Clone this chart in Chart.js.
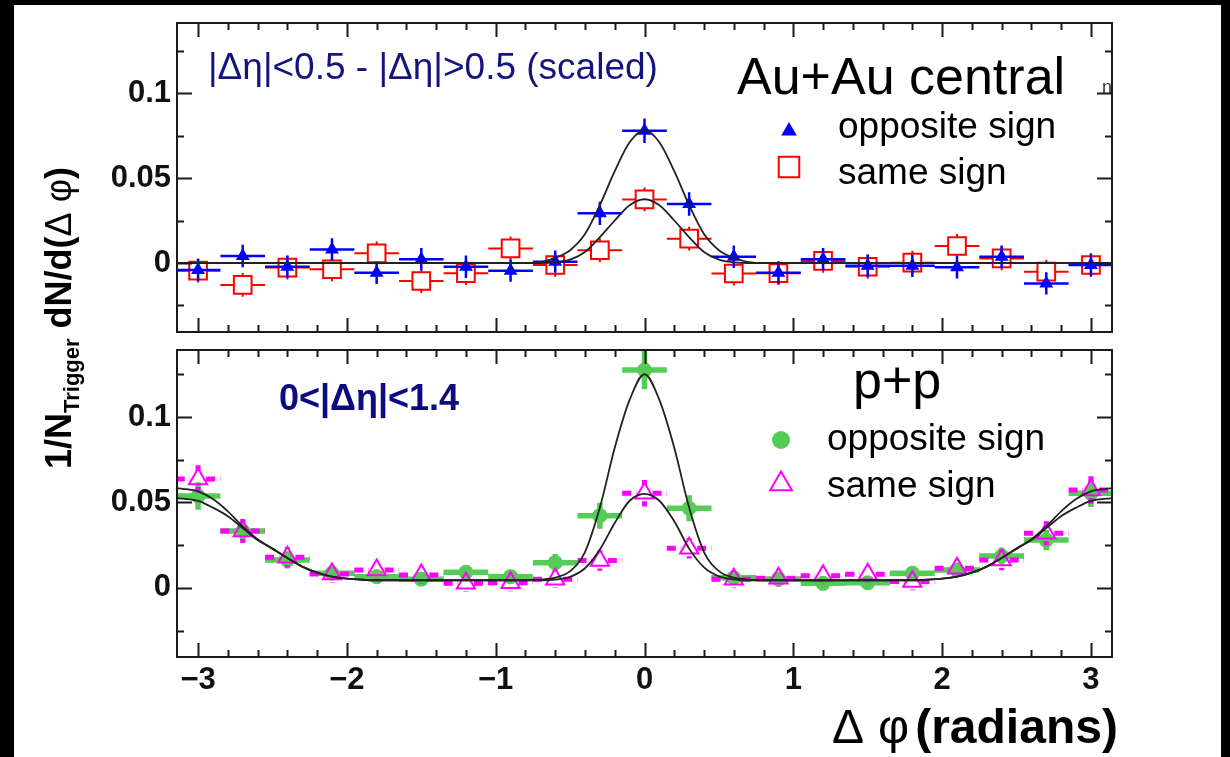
<!DOCTYPE html>
<html>
<head>
<meta charset="utf-8">
<title>Delta phi correlations</title>
<script src="https://cdn.jsdelivr.net/npm/chart.js@4.4.1/dist/chart.umd.min.js"></script>
<style>
  html, body { margin: 0; padding: 0; background: #000; width: 1230px; height: 757px; overflow: hidden; }
  #page { position: absolute; left: 14px; top: 5px; width: 1207px; height: 752px; background: #fff; }
  canvas { position: absolute; left: 0; }
  .lbl { position: absolute; white-space: nowrap; line-height: 1; color: #000;
         font-family: 'Liberation Sans', Arial, sans-serif; }
  .sym { font-weight: normal; }
</style>
</head>
<body>
<div id="page"></div>
<canvas id="top-panel" width="1230" height="340" style="top:0"></canvas>
<canvas id="bottom-panel" width="1230" height="417" style="top:340px"></canvas>

<div class="lbl" style="left:208px; top:48px; font-size:37px; color:#14147f">|&Delta;&eta;|&lt;0.5 - |&Delta;&eta;|&gt;0.5 (scaled)</div>
<div class="lbl" style="left:737px; top:50px; font-size:52px">Au+Au central</div>
<div class="lbl" style="left:838px; top:107px; font-size:37px">opposite sign</div>
<div class="lbl" style="left:838px; top:153px; font-size:37px">same sign</div>
<div class="lbl" style="left:1102px; top:78px; font-size:18px; color:#333">n</div>

<div class="lbl" style="left:279px; top:380px; font-size:36px; font-weight:bold; color:#0c0c80">0&lt;|&Delta;&eta;|&lt;1.4</div>
<div class="lbl" style="left:853px; top:354px; font-size:52px">p+p</div>
<div class="lbl" style="left:827px; top:419px; font-size:37px">opposite sign</div>
<div class="lbl" style="left:827px; top:466px; font-size:37px">same sign</div>

<div class="lbl" style="left:832px; top:703px; font-size:48px; font-weight:bold"><span class="sym">&Delta;</span><span class="sym" style="margin-left:14px">&phi;</span><span style="margin-left:6px">(radians)</span></div>
<div class="lbl" id="y-title" style="font-size:36px; font-weight:bold">1/N<span style="font-size:22px; position:relative; top:8px">Trigger</span> dN/d(<span class="sym">&Delta;</span> <span class="sym">&phi;</span>)</div>

<script>
(function () {
  'use strict';

  // ---- Data -----------------------------------------------
  const PHI_BINS = [-3.0, -2.7, -2.4, -2.1, -1.8, -1.5, -1.2, -0.9, -0.6, -0.3, 0,
                    0.3, 0.6, 0.9, 1.2, 1.5, 1.8, 2.1, 2.4, 2.7, 3.0];
  const BIN_HALF = 0.15;

  // Au+Au central, |dEta|<0.5 minus |dEta|>0.5
  const AUAU_OPP = [-0.0041, 0.0041, -0.0022, 0.008, -0.0057, 0.0022, -0.0022, -0.0045, 0.0008, 0.0292, 0.0778,
                    0.0347, 0.0037, -0.0057, 0.0022, -0.0016, -0.0016, -0.0025, 0.0037, -0.012, -0.0012];
  const AUAU_OPP_ERR = [0.0066, 0.0066, 0.0066, 0.0066, 0.0066, 0.0066, 0.0066, 0.0066, 0.0066, 0.0068, 0.0072,
                        0.0069, 0.0066, 0.0066, 0.0066, 0.0066, 0.0066, 0.0066, 0.0066, 0.0066, 0.0066];
  const AUAU_SAME = [-0.0045, -0.0129, -0.0027, -0.0037, 0.0057, -0.0106, -0.006, 0.0086, -0.0012, 0.0075, 0.0374,
                     0.0143, -0.0062, -0.006, 0.0012, -0.0022, 0.0002, 0.01, 0.0027, -0.0051, -0.0012];
  const AUAU_SAME_ERR = [0.007, 0.007, 0.007, 0.007, 0.007, 0.007, 0.007, 0.007, 0.007, 0.007, 0.007,
                         0.007, 0.007, 0.007, 0.007, 0.007, 0.007, 0.007, 0.007, 0.007, 0.007];

  // p+p, 0<|dEta|<1.4
  const PP_OPP = [0.0538, 0.0333, 0.0164, 0.0086, 0.0066, 0.0051, 0.0092, 0.0066, 0.0148, 0.0423, 0.1275,
                  0.0466, 0.006, 0.0053, 0.0027, 0.003, 0.0086, 0.0105, 0.0187, 0.028, 0.0554];
  const PP_OPP_ERR = [0.008, 0.006, 0.005, 0.004, 0.004, 0.004, 0.004, 0.004, 0.005, 0.0076, 0.0113,
                      0.0076, 0.004, 0.004, 0.004, 0.004, 0.004, 0.004, 0.005, 0.006, 0.008];
  const PP_SAME = [0.0638, 0.0333, 0.018, 0.0082, 0.0105, 0.0076, 0.0027, 0.003, 0.0051, 0.016, 0.0554,
                   0.0232, 0.0051, 0.0057, 0.0072, 0.008, 0.0037, 0.0115, 0.0164, 0.032, 0.0573];
  const PP_SAME_ERR = [0.008, 0.007, 0.006, 0.005, 0.005, 0.005, 0.005, 0.005, 0.005, 0.006, 0.0078,
                       0.006, 0.005, 0.005, 0.005, 0.005, 0.005, 0.005, 0.006, 0.007, 0.008];

  // Fit curves
  const CURVE_AUAU_PHI = [-3.15, -1.0, -0.8, -0.7, -0.6, -0.5, -0.4, -0.3, -0.2, -0.1, 0,
                          0.1, 0.2, 0.3, 0.4, 0.5, 0.6, 0.7, 0.8, 1.0, 3.15];
  const FIT_AUAU_OPP = [0, 0, 0, 0.0005, 0.003, 0.0075, 0.017, 0.034, 0.054, 0.071, 0.078,
                        0.071, 0.054, 0.034, 0.017, 0.0075, 0.003, 0.0005, 0, 0, 0];
  const FIT_AUAU_SAME = [0, 0, 0, 0, 0.0004, 0.002, 0.0065, 0.0152, 0.025, 0.034, 0.0375,
                         0.034, 0.025, 0.0152, 0.0065, 0.002, 0.0004, 0, 0, 0, 0];

  const CURVE_PP_PHI = [-3.15, -3.1, -3.0, -2.9, -2.8, -2.7, -2.6, -2.5, -2.4, -2.3, -2.2, -2.1, -2.0, -1.9, -1.8,
                        -1.5, -1.0,
                        -0.8, -0.7, -0.6, -0.5, -0.4, -0.3, -0.2, -0.1, 0, 0.1, 0.2, 0.3, 0.4, 0.5, 0.6, 0.7, 0.8,
                        1.0, 1.5,
                        1.8, 1.9, 2.0, 2.1, 2.2, 2.3, 2.4, 2.5, 2.6, 2.7, 2.8, 2.9, 3.0, 3.1, 3.15];
  const FIT_PP_OPP = [0.0525, 0.0522, 0.051, 0.047, 0.042, 0.035, 0.028, 0.023, 0.0175, 0.0125, 0.009, 0.0066, 0.0054, 0.0048, 0.0045,
                      0.0045, 0.0045,
                      0.0045, 0.0049, 0.006, 0.0098, 0.021, 0.047, 0.082, 0.110, 0.125, 0.110, 0.082, 0.047, 0.021, 0.0098, 0.006, 0.0049, 0.0045,
                      0.0045, 0.0045,
                      0.0045, 0.0048, 0.0054, 0.0066, 0.009, 0.0125, 0.0175, 0.023, 0.028, 0.035, 0.042, 0.047, 0.051, 0.0522, 0.0525];
  const FIT_PP_SAME = [0.0583, 0.058, 0.0565, 0.052, 0.0448, 0.036, 0.0285, 0.023, 0.0175, 0.0125, 0.009, 0.0066, 0.0054, 0.0048, 0.0045,
                       0.0045, 0.0045,
                       0.0045, 0.0045, 0.0049, 0.0065, 0.0115, 0.0225, 0.038, 0.051, 0.055, 0.051, 0.039, 0.023, 0.012, 0.0068, 0.005, 0.0045, 0.0045,
                       0.0045, 0.0045,
                       0.0045, 0.0048, 0.0054, 0.0066, 0.009, 0.0125, 0.0175, 0.023, 0.0285, 0.036, 0.0448, 0.052, 0.0565, 0.058, 0.0583];

  // Axis ticks
  const X_TICKS = [-3, -2, -1, 0, 1, 2, 3];
  const X_TICK_LABELS = ['\u22123', '\u22122', '\u22121', '0', '1', '2', '3'];
  const Y_TICKS = [0, 0.05, 0.1];
  const Y_TICK_LABELS = ['0', '0.05', '0.1'];
  const Y_MINOR = [-0.025, 0.025, 0.075, 0.125];

  // ---- Styles ---------------------------------------------
  const BLUE = '#0000ff';
  const RED = '#ff0000';
  const GREEN = '#55cc55';
  const MAGENTA = '#ff00ff';
  const CURVE = '#222222';
  const FRAME = '#1a1a1a';
  const TICK_FONT = { family: "'Liberation Sans', Arial, sans-serif", size: 31, weight: 'bold' };

  const X_MINOR = [];
  for (let i = -15; i <= 15; i++) if (i % 5 !== 0) X_MINOR.push(i / 5);

  function pts(xs, ys) {
    return xs.map((x, i) => ({ x: x, y: ys[i] }));
  }

  function curve(xs, ys) {
    return {
      data: pts(xs, ys),
      showLine: true,
      borderColor: CURVE,
      borderWidth: 1.8,
      pointRadius: 0,
      cubicInterpolationMode: 'monotone',
      order: 0
    };
  }

  function markers(vals, errs, style) {
    return Object.assign({
      data: pts(PHI_BINS, vals),
      showLine: false,
      errX: BIN_HALF,
      errY: errs
    }, style);
  }

  // ---- Plugins --------------------------------------------
  // Error bars drawn right before their own dataset; open markers leave a gap.
  const errorBars = {
    id: 'errorBars',
    beforeDatasetDraw(chart, args) {
      const ds = chart.data.datasets[args.index];
      if (!ds.errY) return;
      const { ctx, chartArea: a, scales: { x, y } } = chart;
      ctx.save();
      ctx.beginPath();
      ctx.rect(a.left, a.top, a.right - a.left, a.bottom - a.top);
      ctx.clip();
      ctx.strokeStyle = ds.barColor;
      ctx.lineWidth = ds.barWidth;
      ctx.setLineDash(ds.barDash || []);
      ctx.beginPath();
      const gx = ds.gapX || 0, gy = ds.gapY || 0;
      ds.data.forEach((p, i) => {
        const px = x.getPixelForValue(p.x), py = y.getPixelForValue(p.y);
        const x0 = x.getPixelForValue(p.x - ds.errX), x1 = x.getPixelForValue(p.x + ds.errX);
        const y0 = y.getPixelForValue(p.y + ds.errY[i]), y1 = y.getPixelForValue(p.y - ds.errY[i]);
        ctx.moveTo(x0, py); ctx.lineTo(px - gx, py);
        ctx.moveTo(px + gx, py); ctx.lineTo(x1, py);
        if (y0 < py - gy) { ctx.moveTo(px, y0); ctx.lineTo(px, py - gy); }
        if (y1 > py + gy) { ctx.moveTo(px, py + gy); ctx.lineTo(px, y1); }
      });
      ctx.stroke();
      ctx.restore();
    }
  };

  // Box frame with inward major/minor ticks on all four sides.
  const frameTicks = {
    id: 'frameTicks',
    afterDatasetsDraw(chart) {
      const { ctx, chartArea: a, scales: { x, y } } = chart;
      ctx.save();
      ctx.strokeStyle = FRAME;
      ctx.lineWidth = 2;
      ctx.strokeRect(a.left, a.top, a.right - a.left, a.bottom - a.top);
      ctx.beginPath();
      function xt(v, len) {
        const px = Math.round(x.getPixelForValue(v)) + 0.5;
        ctx.moveTo(px, a.bottom); ctx.lineTo(px, a.bottom - len);
        ctx.moveTo(px, a.top); ctx.lineTo(px, a.top + len);
      }
      function yt(v, len) {
        const py = Math.round(y.getPixelForValue(v)) + 0.5;
        ctx.moveTo(a.left, py); ctx.lineTo(a.left + len, py);
        ctx.moveTo(a.right, py); ctx.lineTo(a.right - len, py);
      }
      X_TICKS.forEach(v => xt(v, 14));
      X_MINOR.forEach(v => xt(v, 7));
      Y_TICKS.forEach(v => yt(v, 15));
      Y_MINOR.forEach(v => yt(v, 7));
      ctx.stroke();
      ctx.restore();
    }
  };

  // Legend markers at fixed spots next to the html legend text.
  const legendMarks = {
    id: 'legendMarks',
    afterDraw(chart, args, opts) {
      const ctx = chart.ctx;
      (opts.items || []).forEach(m => {
        ctx.save();
        ctx.fillStyle = m.fill;
        ctx.strokeStyle = m.stroke;
        ctx.lineWidth = m.borderWidth;
        Chart.helpers.drawPoint(ctx, {
          pointStyle: m.style, rotation: 0, radius: m.radius, borderWidth: m.borderWidth
        }, m.x, m.y);
        ctx.restore();
      });
    }
  };

  function panelOptions(yMin, yMax, showX, padding, legendItems) {
    return {
      responsive: false,
      animation: false,
      layout: { padding: padding, autoPadding: false },
      plugins: {
        legend: { display: false },
        tooltip: { enabled: false },
        legendMarks: { items: legendItems }
      },
      scales: {
        x: {
          type: 'linear',
          min: -Math.PI,
          max: Math.PI,
          display: showX,
          grid: { display: false, drawTicks: false },
          border: { display: false },
          afterBuildTicks: s => { s.ticks = X_TICKS.map(v => ({ value: v })); },
          afterFit: s => {
            s.height = showX ? 100 : 0;
            s.paddingLeft = 0;
            s.paddingRight = 0;
          },
          ticks: {
            font: TICK_FONT, color: '#111', padding: 5, maxRotation: 0,
            callback: (v, i) => X_TICK_LABELS[i]
          }
        },
        y: {
          type: 'linear',
          min: yMin,
          max: yMax,
          grid: { display: false, drawTicks: false },
          border: { display: false },
          afterBuildTicks: s => { s.ticks = Y_TICKS.map(v => ({ value: v })); },
          afterFit: s => { s.width = 177; s.paddingTop = 0; s.paddingBottom = 0; },
          ticks: {
            font: TICK_FONT, color: '#111', padding: 6,
            callback: (v, i) => Y_TICK_LABELS[i]
          }
        }
      }
    };
  }

  Chart.register(errorBars, frameTicks, legendMarks);

  // ---- Top panel: Au+Au central ---------------------------
  new Chart(document.getElementById('top-panel'), {
    type: 'scatter',
    data: {
      datasets: [
        curve(CURVE_AUAU_PHI, FIT_AUAU_OPP),
        curve(CURVE_AUAU_PHI, FIT_AUAU_SAME),
        markers(AUAU_OPP, AUAU_OPP_ERR, {
          pointStyle: 'triangle', pointRadius: 8, backgroundColor: BLUE, borderColor: BLUE, borderWidth: 0,
          barColor: BLUE, barWidth: 2.5, order: 1
        }),
        markers(AUAU_SAME, AUAU_SAME_ERR, {
          pointStyle: 'rect', pointRadius: 12.5, backgroundColor: 'rgba(0,0,0,0)', borderColor: RED, borderWidth: 2,
          barColor: RED, barWidth: 2, gapX: 9, gapY: 9, order: 2
        })
      ]
    },
    options: panelOptions(-0.0406, 0.1412, false, { top: 23, right: 118, bottom: 8, left: 0 }, [
      { style: 'triangle', x: 789, y: 131, radius: 9, fill: BLUE, stroke: BLUE, borderWidth: 0 },
      { style: 'rect', x: 789, y: 167, radius: 14.5, fill: 'rgba(0,0,0,0)', stroke: RED, borderWidth: 2 }
    ])
  });

  // ---- Bottom panel: p+p ----------------------------------
  new Chart(document.getElementById('bottom-panel'), {
    type: 'scatter',
    data: {
      datasets: [
        curve(CURVE_PP_PHI, FIT_PP_OPP),
        curve(CURVE_PP_PHI, FIT_PP_SAME),
        markers(PP_SAME, PP_SAME_ERR, {
          pointStyle: 'triangle', pointRadius: 10.5, backgroundColor: 'rgba(0,0,0,0)', borderColor: MAGENTA, borderWidth: 2,
          barColor: MAGENTA, barWidth: 5, barDash: [9, 5], gapX: 8, gapY: 8, order: 1
        }),
        markers(PP_OPP, PP_OPP_ERR, {
          pointStyle: 'circle', pointRadius: 7.5, backgroundColor: GREEN, borderColor: GREEN, borderWidth: 0,
          barColor: GREEN, barWidth: 5.5, order: 2
        })
      ]
    },
    options: panelOptions(-0.0404, 0.1392, true, { top: 10, right: 118, bottom: 0, left: 0 }, [
      { style: 'circle', x: 781, y: 100, radius: 9, fill: GREEN, stroke: GREEN, borderWidth: 0 },
      { style: 'triangle', x: 781, y: 144, radius: 12.5, fill: 'rgba(0,0,0,0)', stroke: MAGENTA, borderWidth: 2 }
    ])
  });

  // ---- Rotated y title spanning both panels ---------------
  const yt = document.getElementById('y-title');
  const w = yt.offsetWidth, h = yt.offsetHeight;
  yt.style.left = (59 - w / 2) + 'px';
  yt.style.top = (318 - h / 2) + 'px';
  yt.style.transform = 'rotate(-90deg)';
})();
</script>
</body>
</html>
